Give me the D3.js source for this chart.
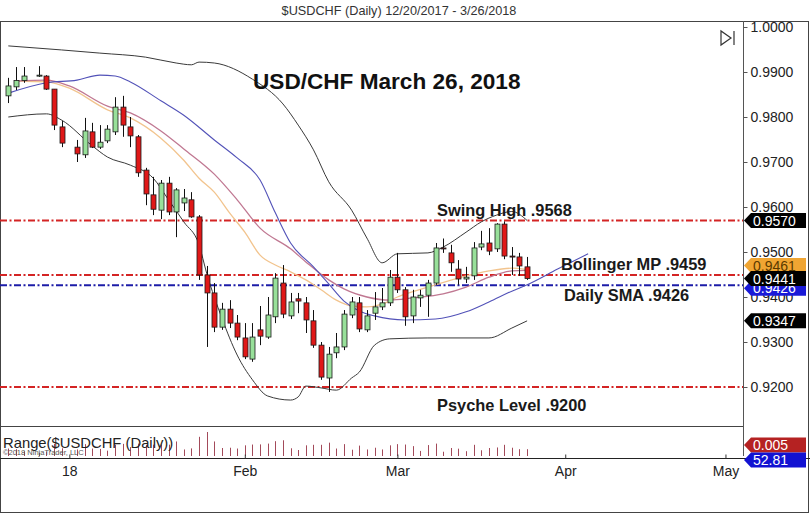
<!DOCTYPE html>
<html><head><meta charset="utf-8">
<script src="https://cdn.jsdelivr.net/npm/d3@7/dist/d3.min.js"></script>
<style>body{margin:0;background:#fff} svg{display:block} text{font-family:Arial,"Liberation Sans",sans-serif}</style>
</head><body><svg id="c" width="810" height="515"></svg>
<script>
// ---------- DATA ----------
const dates = ["2017-12-20","2017-12-21","2017-12-22","2017-12-26","2017-12-27","2017-12-28","2017-12-29",
"2018-01-02","2018-01-03","2018-01-04","2018-01-05","2018-01-08","2018-01-09","2018-01-10","2018-01-11","2018-01-12",
"2018-01-15","2018-01-16","2018-01-17","2018-01-18","2018-01-19","2018-01-22","2018-01-23","2018-01-24","2018-01-25","2018-01-26",
"2018-01-29","2018-01-30","2018-01-31","2018-02-01","2018-02-02","2018-02-05","2018-02-06","2018-02-07","2018-02-08","2018-02-09",
"2018-02-12","2018-02-13","2018-02-14","2018-02-15","2018-02-16","2018-02-19","2018-02-20","2018-02-21","2018-02-22","2018-02-23",
"2018-02-26","2018-02-27","2018-02-28","2018-03-01","2018-03-02","2018-03-05","2018-03-06","2018-03-07","2018-03-08","2018-03-09",
"2018-03-12","2018-03-13","2018-03-14","2018-03-15","2018-03-16","2018-03-19","2018-03-20","2018-03-21","2018-03-22","2018-03-23","2018-03-26"];
const open  = [.9847,.9867,.9881,.9892,.9891,.9862,.9778,
.9733,.9716,.9767,.9733,.9747,.9767,.9822,.9778,.9756,
.9682,.9627,.9593,.9653,.9589,.9609,.9616,.9578,.9449,.9409,
.9333,.9373,.9342,.9309,.9262,.9327,.9311,.9356,.9431,.9358,
.9396,.9387,.9347,.9293,.9220,.9276,.9289,.9360,.9387,.9327,
.9364,.9378,.9387,.9444,.9416,.9358,.9398,.9404,.9431,.9509,
.9498,.9462,.9440,.9447,.9511,.9520,.9507,.9562,.9491,.9489,.9467];
const high  = [.9887,.9911,.9911,.9913,.9893,.9862,.9791,
.9749,.9798,.9787,.9782,.9782,.9844,.9847,.9800,.9760,
.9687,.9667,.9660,.9667,.9642,.9640,.9633,.9582,.9469,.9431,
.9387,.9393,.9360,.9342,.9342,.9380,.9400,.9453,.9471,.9409,
.9409,.9400,.9371,.9300,.9289,.9320,.9371,.9400,.9400,.9371,
.9411,.9420,.9460,.9498,.9422,.9416,.9416,.9438,.9520,.9530,
.9516,.9482,.9467,.9522,.9547,.9553,.9564,.9568,.9511,.9498,.9489];
const low   = [.9831,.9860,.9876,.9889,.9860,.9771,.9733,
.9700,.9709,.9731,.9729,.9742,.9760,.9756,.9733,.9667,
.9604,.9582,.9573,.9582,.9533,.9591,.9576,.9438,.9289,.9322,
.9327,.9331,.9304,.9262,.9256,.9293,.9307,.9342,.9353,.9351,
.9364,.9320,.9287,.9216,.9189,.9264,.9282,.9353,.9322,.9322,
.9349,.9371,.9380,.9409,.9336,.9342,.9378,.9356,.9427,.9498,
.9456,.9427,.9431,.9438,.9504,.9493,.9500,.9484,.9449,.9447,.9438];
const close = [.9869,.9881,.9891,.9893,.9862,.9782,.9742,
.9718,.9769,.9733,.9744,.9773,.9822,.9782,.9758,.9676,
.9629,.9595,.9653,.9589,.9638,.9620,.9578,.9449,.9409,.9333,
.9373,.9342,.9311,.9267,.9311,.9313,.9360,.9442,.9362,.9389,
.9391,.9349,.9293,.9222,.9273,.9289,.9362,.9389,.9329,.9358,
.9378,.9387,.9444,.9416,.9356,.9400,.9404,.9431,.9509,.9507,
.9476,.9440,.9444,.9509,.9518,.9502,.9562,.9491,.9489,.9469,.9441];

const upperBand = [["2017-12-20",.9958],["2017-12-29",.9949],["2018-01-05",.9942],["2018-01-15",.9933],["2018-01-19",.9920],
["2018-01-23",.9916],["2018-01-24",.9922],["2018-01-26",.9920],["2018-02-02",.9884],["2018-02-08",.9829],["2018-02-12",.9782],
["2018-02-14",.9727],["2018-02-16",.9656],["2018-02-21",.9593],["2018-02-23",.9531],["2018-02-27",.9476],["2018-03-01",.9496],
["2018-03-07",.9498],["2018-03-09",.9511],["2018-03-14",.9544],["2018-03-16",.9567],["2018-03-20",.9582],["2018-03-22",.9590],["2018-03-26",.9570]];
const lowerBand = [["2017-12-20",.9800],["2017-12-27",.9807],["2017-12-29",.9793],["2018-01-04",.9736],["2018-01-08",.9711],
["2018-01-11",.9693],["2018-01-16",.9664],["2018-01-18",.9616],["2018-01-22",.9567],["2018-01-24",.9516],["2018-01-25",.9453],
["2018-01-29",.9353],["2018-01-31",.9271],["2018-02-02",.9216],["2018-02-06",.9180],["2018-02-09",.9171],["2018-02-12",.9178],
["2018-02-13",.9202],["2018-02-15",.9198],["2018-02-19",.9193],["2018-02-21",.9220],["2018-02-22",.9233],["2018-02-26",.9293],
["2018-02-28",.9307],["2018-03-07",.9309],["2018-03-19",.9309],["2018-03-22",.9331],["2018-03-26",.9347]];
const midBand = [["2017-12-21",.9880],["2017-12-27",.9882],["2018-01-01",.9869],["2018-01-08",.9824],["2018-01-11",.9809],
["2018-01-17",.9769],["2018-01-22",.9729],["2018-01-26",.9673],["2018-01-31",.9616],["2018-02-05",.9553],["2018-02-09",.9507],
["2018-02-13",.9478],["2018-02-16",.9438],["2018-02-20",.9418],["2018-02-23",.9400],["2018-02-28",.9393],["2018-03-05",.9398],
["2018-03-09",.9407],["2018-03-14",.9422],["2018-03-19",.9444],["2018-03-22",.9458],["2018-03-26",.9459]];
const fastMA = [["2017-12-21",.9880],["2017-12-27",.9878],["2018-01-01",.9864],["2018-01-08",.9816],["2018-01-11",.9798],
["2018-01-17",.9753],["2018-01-22",.9704],["2018-01-24",.9664],["2018-01-26",.9633],["2018-01-30",.9587],["2018-02-01",.9544],
["2018-02-05",.9493],["2018-02-07",.9471],["2018-02-09",.9456],["2018-02-13",.9438],["2018-02-15",.9416],["2018-02-19",.9393],
["2018-02-21",.9380],["2018-02-23",.9378],["2018-02-27",.9384],["2018-03-01",.9400],["2018-03-07",.9422],["2018-03-13",.9442],
["2018-03-19",.9458],["2018-03-22",.9464],["2018-03-26",.9461]];
const dailySMA = [["2017-12-20",.9853],["2017-12-27",.9876],["2018-01-02",.9882],["2018-01-05",.9893],["2018-01-09",.9891],
["2018-01-11",.9878],["2018-01-17",.9836],["2018-01-22",.9804],["2018-01-26",.9749],["2018-01-31",.9709],["2018-02-05",.9660],
["2018-02-07",.9587],["2018-02-09",.9520],["2018-02-14",.9467],["2018-02-16",.9429],["2018-02-20",.9391],["2018-02-22",.9369],
["2018-02-26",.9358],["2018-03-02",.9349],["2018-03-08",.9351],["2018-03-14",.9367],["2018-03-19",.9389],["2018-03-22",.9413],
["2018-03-26",.9427],["2018-03-30",.9462],["2018-04-05",.9496]];

const levelValues = [0.9570, 0.9449, 0.9426, 0.9200];
const levelColors = ["#d42424","#d42424","#1c1ca8","#d42424"];
const notes = ["Swing High .9568","Bollinger MP .9459","Daily SMA .9426","Psyche Level .9200"];
const yTicks = [1.0,0.99,0.98,0.97,0.96,0.95,0.94,0.93,0.92];
const xTickDates = ["2018-01-01","2018-02-01","2018-03-01","2018-04-01","2018-05-01"];
const xTickLabels = ["18","Feb","Mar","Apr","May"];
const tagValues = [0.9570,0.9461,0.9426,0.9441,0.9347];
const tagColors = ["#000","#f0a532","#1a1ad8","#000","#000"];
const lastRange = "0.005", lastPips = "52.81";

// ---------- HELPERS ----------
const start = Date.UTC(2017,11,20);
function wd(s){ // weekday index from the first bar
  const t = Date.parse(s+"T00:00:00Z"); let n=0;
  for(let d=start; d<t; d+=86400000){ const w=new Date(d).getUTCDay(); if(w!==0&&w!==6) n++; }
  return n;
}
const svg = d3.select("#c");
const x = d3.scaleLinear().domain([0,68]).range([8.3,527.1]);
const y = d3.scaleLinear().domain([0.92,1.0]).range([387,27]);
const AX = 743;

// borders
svg.append("rect").attr("x",0.5).attr("y",21.5).attr("width",808).attr("height",491).attr("fill","none").attr("stroke","#444");
svg.append("line").attr("x1",0).attr("x2",AX).attr("y1",426.5).attr("y2",426.5).attr("stroke","#444");
svg.append("line").attr("x1",0).attr("x2",810).attr("y1",458.5).attr("y2",458.5).attr("stroke","#222");

// title
svg.append("text").attr("x",399).attr("y",15).attr("text-anchor","middle").attr("font-size",12.7).attr("fill","#333")
  .text("$USDCHF (Daily)  12/20/2017 - 3/26/2018");

// level lines
const lv = svg.append("g");
levelValues.forEach((v,i)=>{
  lv.append("line").attr("x1",0).attr("x2",AX).attr("y1",y(v)).attr("y2",y(v))
    .attr("stroke",levelColors[i]).attr("stroke-width",2).attr("stroke-dasharray","7,2.5,2,2.5");
});

// indicator lines
function drawLine(data,color,w){
  const ln = d3.line().x(d=>x(wd(d[0]))).y(d=>y(d[1])).curve(d3.curveMonotoneX);
  svg.append("path").attr("d",ln(data)).attr("fill","none").attr("stroke",color).attr("stroke-width",w);
}
drawLine(upperBand,"#3a3a3a",1);
drawLine(lowerBand,"#3a3a3a",1);
drawLine(fastMA,"#f2c48e",1.3);
drawLine(midBand,"#c07892",1.3);
drawLine(dailySMA,"#5252b8",1.1);

// candles
const cg = svg.append("g");
dates.forEach((d,i)=>{
  const cx = Math.round(x(wd(d)))+0.5;
  const up = close[i]>=open[i];
  cg.append("line").attr("x1",cx).attr("x2",cx).attr("y1",y(high[i])).attr("y2",y(low[i])).attr("stroke","#111").attr("stroke-width",1);
  const top = y(Math.max(open[i],close[i])), bot = y(Math.min(open[i],close[i]));
  cg.append("rect").attr("x",cx-2.5).attr("y",top).attr("width",5).attr("height",Math.max(bot-top,1))
    .attr("fill",up?"#98e09a":"#e01818").attr("stroke","#1a1a1a").attr("stroke-width",0.8);
});

// annotation texts
const notePos = [[437,216],[561,270],[564,301],[437,411]];
notes.forEach((t,i)=>{
  svg.append("text").attr("x",notePos[i][0]).attr("y",notePos[i][1]).attr("font-size",16.4).attr("font-weight","bold").attr("fill","#1a1a1a").text(t);
});
svg.append("text").attr("x",253).attr("y",89).attr("font-size",22.6).attr("font-weight","bold").attr("fill","#111").text("USD/CHF March 26, 2018");

// right axis
const ra = svg.append("g").attr("transform",`translate(${AX+0.5},0)`)
  .call(d3.axisRight(y).tickValues(yTicks).tickFormat(d3.format(".4f")).tickSize(4).tickPadding(3));
ra.select(".domain").remove();
ra.selectAll("text").attr("font-size",14).attr("fill","#222").attr("font-family","Arial, Liberation Sans, sans-serif");
ra.selectAll("line").attr("stroke","#555");
svg.append("line").attr("x1",AX+0.5).attr("x2",AX+0.5).attr("y1",21).attr("y2",456).attr("stroke","#555");

// icon
svg.append("path").attr("d","M721,31 L721,45 L731,38 Z M734,31 L734,45").attr("fill","none").attr("stroke","#333").attr("stroke-width",1.2);

// price tags
function tag(yc,txt,fill,tc){
  const g = svg.append("g");
  g.append("path").attr("d",`M${AX+1},${yc} L${AX+8},${yc-7.5} L806,${yc-7.5} L806,${yc+7.5} L${AX+8},${yc+7.5} Z`).attr("fill",fill);
  g.append("text").attr("x",753).attr("y",yc+5).attr("font-size",14).attr("fill",tc).text(txt);
}
const tagOff = [0,-4,3,0,0];
tagValues.forEach((v,i)=>{
  if(i===3) return;
  tag(y(v)+tagOff[i], d3.format(".4f")(v), tagColors[i], i===1?"#5a3a00":"#fff");
});
tag(y(tagValues[3]), d3.format(".4f")(tagValues[3]), tagColors[3], "#fff");

// range panel
const yr = d3.scaleLinear().domain([0,0.0195]).range([456,430]);
const rg = svg.append("g");
dates.forEach((d,i)=>{
  const cx = Math.round(x(wd(d)))+0.5;
  rg.append("line").attr("x1",cx).attr("x2",cx).attr("y1",yr(0)).attr("y2",yr(high[i]-low[i])).attr("stroke","#a34a5a").attr("stroke-width",1);
});
svg.append("text").attr("x",3).attr("y",448).attr("font-size",14.8).attr("fill","#222").text("Range($USDCHF (Daily))");
svg.append("text").attr("x",3).attr("y",455).attr("font-size",7.5).attr("fill","#555").text("©2018 NinjaTrader, LLC");
tag(445,lastRange,"#b52222","#fff");
tag(460,lastPips,"#1212d2","#fff");

// date axis
const xa = svg.append("g").attr("transform","translate(0,458.5)")
  .call(d3.axisBottom(x).tickValues(xTickDates.map(wd)).tickFormat((d,i)=>xTickLabels[i]).tickSizeInner(-4).tickSizeOuter(0).tickPadding(8));
xa.select(".domain").remove();
xa.selectAll("text").attr("font-size",14).attr("fill","#222").attr("font-family","Arial, Liberation Sans, sans-serif");
xa.selectAll("line").attr("stroke","#333");
</script></body></html>
